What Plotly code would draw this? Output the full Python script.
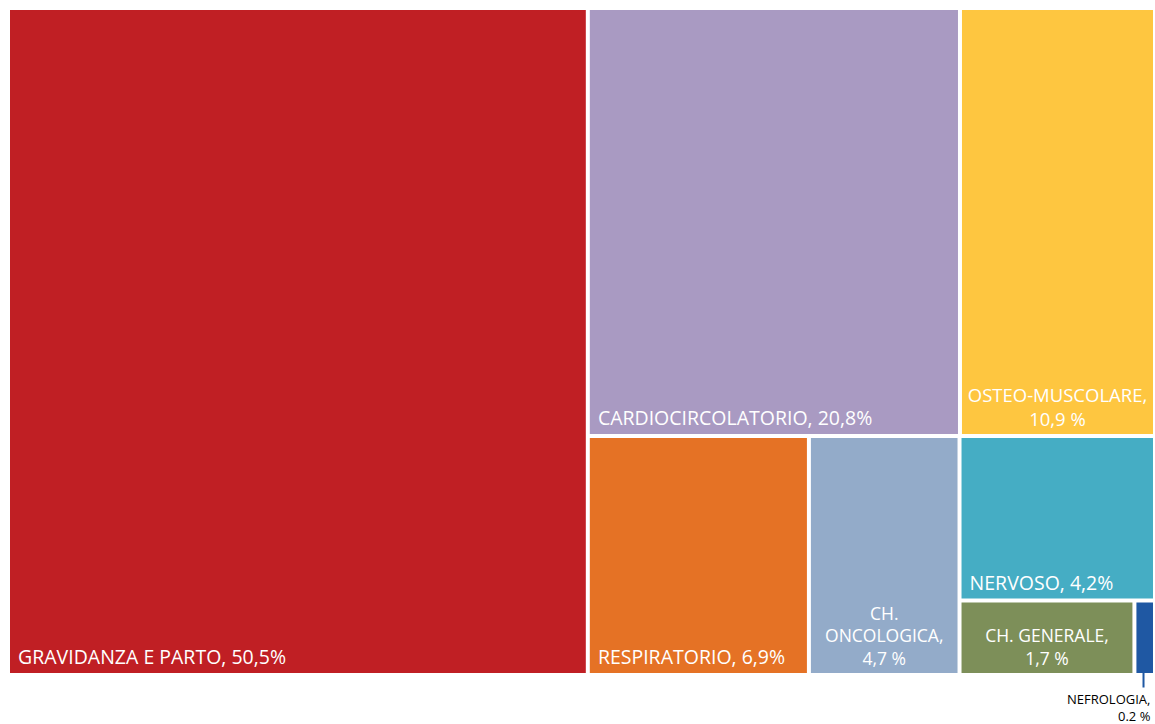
import plotly.graph_objects as go

# Leaf data
labels = ["GRAVIDANZA E PARTO", "CARDIOCIRCOLATORIO", "OSTEO-MUSCOLARE",
          "RESPIRATORIO", "CH. ONCOLOGICA", "NERVOSO", "CH. GENERALE", "NEFROLOGIA"]
values = [50.5, 20.8, 10.9, 6.9, 4.7, 4.2, 1.7, 0.2]
pct_text = ["50,5%", "20,8%", "10,9 %", "6,9%", "4,7 %", "4,2%", "1,7 %", "0.2 %"]
colors = ["#C01F24", "#A99AC2", "#FEC640", "#E57225", "#93ABC9", "#45ADC4", "#7D8F59", "#1F58A3"]
# single-line (left aligned) labels vs wrapped (centred) labels
left_text = ["GRAVIDANZA E PARTO, 50,5%", "CARDIOCIRCOLATORIO, 20,8%", "",
             "RESPIRATORIO, 6,9%", "", "NERVOSO, 4,2%", "", ""]
center_text = ["", "", "OSTEO-MUSCOLARE,<br>10,9 %", "", "CH.<br>ONCOLOGICA,<br>4,7 %", "",
               "CH. GENERALE,<br>1,7 %", ""]
center_size = [18, 18, 18.5, 18, 17.5, 18, 17.5, 18]

# layout grouping (Excel-like arrangement)
leaf_parents = ["", "B", "B", "C", "C", "D", "E", "E"]
groups = ["A", "B", "C", "D", "E"]
group_parents = ["", "A", "A", "C", "D"]

ids = labels + groups
parents = leaf_parents + group_parents
vals = values + [0] * len(groups)
clear = "rgba(255,255,255,0)"
FONT = "'Open Sans', sans-serif"

common = dict(ids=ids, labels=ids, parents=parents, values=vals,
              branchvalues="remainder", sort=False, textinfo="text",
              tiling=dict(packing="slice-dice", pad=4),
              pathbar=dict(visible=False))

fig = go.Figure()
fig.add_trace(go.Treemap(
    **common,
    text=["&nbsp;" + t if t else "" for t in left_text] + [""] * len(groups),
    textposition="bottom left",
    textfont=dict(family=FONT, size=19.5, color="white"),
    marker=dict(colors=colors + [clear] * len(groups), line=dict(width=0),
                pad=dict(t=0, l=0, r=0, b=0)),
    hoverinfo="label+value",
))
fig.add_trace(go.Treemap(
    **common,
    text=center_text + [""] * len(groups),
    textposition="bottom center",
    textfont=dict(family=FONT, size=center_size + [18] * len(groups), color="white"),
    marker=dict(colors=[clear] * (len(labels) + len(groups)), line=dict(width=0),
                pad=dict(t=0, l=0, r=0, b=0)),
    hoverinfo="skip",
))

# NEFROLOGIA label outside its tiny tile, with a leader line
fig.add_annotation(text="", xref="paper", yref="paper", x=0.9917, y=0,
                   showarrow=True, arrowhead=0, arrowwidth=2, arrowcolor=colors[7],
                   ax=0, ay=16, standoff=0, startstandoff=0)
fig.add_annotation(text=labels[7] + ",<br>" + pct_text[7], xref="paper", yref="paper",
                   x=1.0, y=0, yshift=-15, xanchor="right", yanchor="top", showarrow=False,
                   align="right", font=dict(family=FONT, size=13, color="black"))

fig.update_layout(
    width=1155, height=724,
    margin=dict(l=10, r=2, t=10, b=51),
    paper_bgcolor="white",
    font=dict(family=FONT),
)
fig.write_html("out.html", config={"displayModeBar": False},
               post_script="document.body.style.margin='0';document.body.style.overflow='hidden';")
